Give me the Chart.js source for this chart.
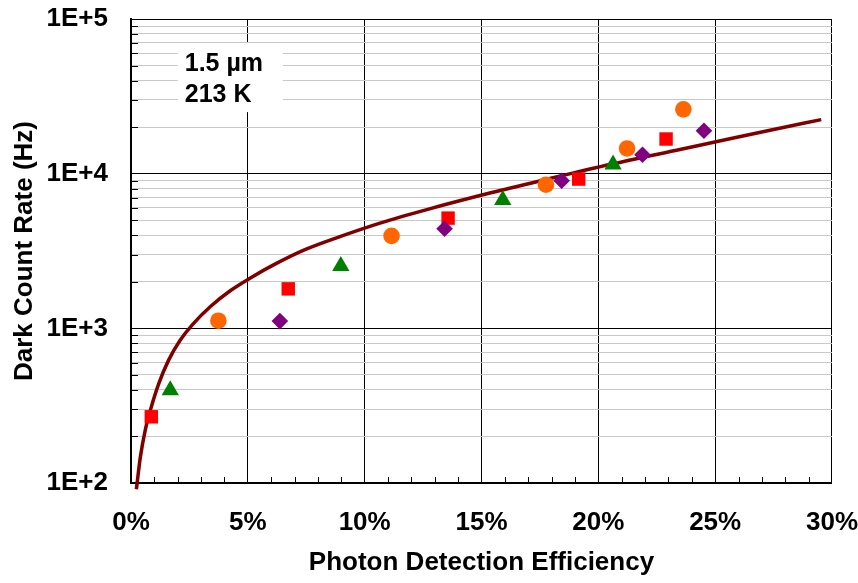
<!DOCTYPE html>
<html>
<head>
<meta charset="utf-8">
<script src="https://cdn.jsdelivr.net/npm/chart.js@4.4.1/dist/chart.umd.min.js"></script>
<style>
  html, body { margin: 0; padding: 0; background: #ffffff; }
</style>
</head>
<body>
<canvas id="chart" width="858" height="583"></canvas>
<script>
const FONT = '"Liberation Sans", Arial, Helvetica, sans-serif';

// Measured dark count rate (Hz) vs photon detection efficiency (%)
const pdeRed = [0.87, 6.73, 13.57, 19.16, 22.90];
const dcrRed = [268, 1800, 5160, 9230, 16750];

const pdeGreen = [1.68, 8.98, 15.91, 20.63];
const dcrGreen = [398, 2533, 6756, 11470];

const pdeOrange = [3.74, 11.15, 17.76, 21.23, 23.64];
const dcrOrange = [1120, 3960, 8480, 14560, 26060];

const pdePurple = [6.37, 13.42, 18.43, 21.89, 24.52];
const dcrPurple = [1114, 4400, 9000, 13250, 18960];

// Model curve
const curvePde = [0.23, 0.40, 0.61, 0.83, 1.18, 1.61, 2.11, 2.63, 3.40, 4.26, 5.11, 6.18, 7.47,
                  8.97, 10.69, 12.70, 15.40, 17.83, 20.54, 23.54, 25.68, 27.40, 29.54];
const curveDcr = [91, 147, 220, 296, 436, 623, 840, 1058, 1384, 1757, 2117, 2609, 3239,
                  3932, 4809, 5881, 7520, 9226, 11505, 14390, 16880, 19160, 22350];

// Axis ticks
const xTickValues = [0, 5, 10, 15, 20, 25, 30];
const xTickLabels = ['0%', '5%', '10%', '15%', '20%', '25%', '30%'];
const xMinorStep = 1;
const yTickValues = [100, 1000, 10000, 100000];
const yTickLabels = ['1E+2', '1E+3', '1E+4', '1E+5'];
const yMinorSteps = [2, 3, 4, 5, 6, 7, 8, 9];

const noteLines = ['1.5 µm', '213 K'];

const pts = (xs, ys) => xs.map((x, i) => ({ x, y: ys[i] }));
const isDecade = v => yTickValues.includes(v);

// Minor tick marks inside the frame and the wavelength/temperature note
const frameExtras = {
  id: 'frameExtras',
  beforeDatasetsDraw(chart) {
    const { ctx, chartArea: a, scales: { x, y } } = chart;
    ctx.save();
    ctx.strokeStyle = '#000000';
    ctx.lineWidth = 1;
    ctx.beginPath();
    const xFirst = xTickValues[0], xLast = xTickValues[xTickValues.length - 1];
    for (let v = xFirst; v <= xLast; v += xMinorStep) {
      if (xTickValues.includes(v)) continue;
      const px = Math.round(x.getPixelForValue(v)) + 0.5;
      ctx.moveTo(px, a.bottom);
      ctx.lineTo(px, a.bottom - 6);
    }
    yTickValues.slice(0, -1).forEach(d => yMinorSteps.forEach(m => {
      const py = Math.round(y.getPixelForValue(d * m)) + 0.5;
      ctx.moveTo(a.left, py);
      ctx.lineTo(a.left + 7, py);
    }));
    ctx.stroke();

    const bx0 = x.getPixelForValue(2.0), bx1 = x.getPixelForValue(6.5);
    const by0 = y.getPixelForValue(70000), by1 = y.getPixelForValue(25000);
    ctx.fillStyle = '#ffffff';
    ctx.fillRect(bx0, by0, bx1 - bx0, by1 - by0);
    ctx.fillStyle = '#000000';
    ctx.font = 'bold 25px ' + FONT;
    ctx.textAlign = 'left';
    ctx.textBaseline = 'alphabetic';
    noteLines.forEach((t, i) => ctx.fillText(t, bx0 + 7, by0 + 28 + i * 31));
    ctx.restore();
  }
};

const tickFont = { family: FONT, size: 26, weight: 'bold' };
const titleFont = { family: FONT, size: 26, weight: 'bold' };
const HIDDEN = 'rgba(0,0,0,0)';

new Chart(document.getElementById('chart'), {
  type: 'scatter',
  data: {
    datasets: [
      {
        label: 'D',
        data: pts(pdePurple, dcrPurple),
        pointStyle: 'rectRot', pointRadius: 8.3,
        backgroundColor: '#800080', borderColor: '#800080', borderWidth: 0
      },
      {
        label: 'C',
        data: pts(pdeGreen, dcrGreen),
        pointStyle: 'triangle', pointRadius: 10,
        backgroundColor: '#008000', borderColor: '#008000', borderWidth: 0
      },
      {
        label: 'B',
        data: pts(pdeOrange, dcrOrange),
        pointStyle: 'circle', pointRadius: 8.3,
        backgroundColor: '#FF6600', borderColor: '#FF6600', borderWidth: 0
      },
      {
        label: 'A',
        data: pts(pdeRed, dcrRed),
        pointStyle: 'rect', pointRadius: 9.5,
        backgroundColor: '#FF0000', borderColor: '#FF0000', borderWidth: 0
      },
      {
        label: 'Model',
        data: pts(curvePde, curveDcr),
        showLine: true, pointRadius: 0,
        borderColor: '#800000', borderWidth: 3.5,
        cubicInterpolationMode: 'monotone', clip: false
      }
    ]
  },
  options: {
    responsive: false,
    animation: false,
    layout: { padding: { left: 0, right: 26, top: 19, bottom: 0 } },
    plugins: { legend: { display: false }, tooltip: { enabled: false } },
    scales: {
      x: {
        type: 'linear', min: 0, max: 30,
        afterBuildTicks: s => { s.ticks = xTickValues.map(v => ({ value: v })); },
        afterFit: s => { s.height = 100; },
        ticks: {
          autoSkip: false, maxRotation: 0, padding: 0, color: '#000000', font: tickFont,
          callback: v => { const i = xTickValues.indexOf(v); return i >= 0 ? xTickLabels[i] : ''; }
        },
        grid: { color: '#000000', lineWidth: 1, drawTicks: true, tickLength: 24, tickColor: HIDDEN },
        border: { color: '#000000', width: 2 },
        title: {
          display: true, text: 'Photon Detection Efficiency', color: '#000000',
          font: titleFont, padding: { top: 0, bottom: 5 }
        }
      },
      y: {
        type: 'logarithmic', min: 100, max: 100000,
        afterBuildTicks: s => {
          const t = [];
          yTickValues.forEach((d, i) => {
            t.push({ value: d });
            if (i < yTickValues.length - 1) yMinorSteps.forEach(m => t.push({ value: d * m }));
          });
          s.ticks = t;
        },
        afterFit: s => { s.width = 131; },
        ticks: {
          autoSkip: false, padding: 0, color: '#000000', font: tickFont,
          callback: v => { const i = yTickValues.indexOf(v); return i >= 0 ? yTickLabels[i] : ''; }
        },
        grid: {
          color: c => (c.tick && isDecade(c.tick.value)) ? '#000000' : '#c8c8c8',
          lineWidth: 1, drawTicks: true, tickLength: 23, tickColor: HIDDEN
        },
        border: { color: '#000000', width: 2 },
        title: {
          display: true, text: 'Dark Count Rate (Hz)', color: '#000000',
          font: titleFont, padding: { top: 9, bottom: 0 }
        }
      }
    }
  },
  plugins: [frameExtras]
});
</script>
</body>
</html>
